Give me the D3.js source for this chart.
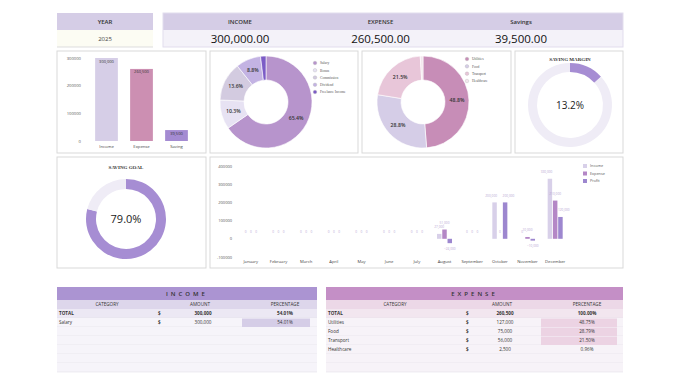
<!DOCTYPE html>
<html><head><meta charset="utf-8">
<script src="https://cdn.jsdelivr.net/npm/d3@7/dist/d3.min.js"></script>
<style>
body{margin:0;background:#fff;}
svg{display:block;font-family:"Open Sans",Lato,sans-serif;}
</style></head>
<body>
<svg id="c" width="680" height="383"></svg>
<script>
// ---------- DATA ----------
const yearLabel = "2025";
const kpiNames = ["INCOME","EXPENSE","Savings"];
const kpiValues = [300000, 260500, 39500];

const summaryCats = ["Income","Expense","Saving"];
const summaryVals = [300000, 260500, 39500];
const summaryTicks = [0,100000,200000,300000];

const incomeCats = ["Salary","Bonus","Commission","Dividend","Freelance Income"];
const incomeShares = [65.4, 10.3, 13.6, 8.8, 1.9];

const expenseCats = ["Utilities","Food","Transport","Healthcare"];
const expenseAmounts = [127000, 75000, 56000, 2500];
const expensePcts = ["48.75%","28.79%","21.50%","0.96%"];

const savingMargin = 13.2;
const savingGoal = 79.0;

const months = ["January","February","March","April","May","June","July","August","September","October","November","December"];
const monthIncome  = [0,0,0,0,0,0,0,27000,0,200000,0,330000];
const monthExpense = [0,0,0,0,0,0,0,51000,0,0,10000,210000];
const monthProfit  = [0,0,0,0,0,0,0,-24000,0,200000,-10000,120000];
const monthTicks = [-100000,0,100000,200000,300000,400000];
const seriesNames = ["Income","Expense","Profit"];

const incomeTableRows = [["TOTAL","300,000","54.01%"],["Salary","300,000","54.01%"]];
const expenseTableTotal = ["TOTAL","260,500","100.00%"];

// ---------- DRAW ----------
const svg = d3.select("#c");
const fmt = d3.format(",");
const fmt2 = d3.format(",.2f");

// KPI header
svg.append("rect").attr("x",57).attr("y",13).attr("width",96).attr("height",17).attr("fill","#d5cde6");
svg.append("rect").attr("x",57).attr("y",30).attr("width",96).attr("height",17).attr("fill","#fcfcf3");
svg.append("line").attr("x1",57).attr("x2",153).attr("y1",47).attr("y2",47).attr("stroke","#ddd");
svg.append("text").attr("x",105).attr("y",24).attr("text-anchor","middle").attr("font-size",6).attr("font-weight",600).attr("fill","#333").text("YEAR");
svg.append("text").attr("x",105).attr("y",41).attr("text-anchor","middle").attr("font-size",6).attr("fill","#444").text(yearLabel);

svg.append("rect").attr("x",163).attr("y",13).attr("width",460).attr("height",17).attr("fill","#d5cde6");
svg.append("rect").attr("x",163).attr("y",30).attr("width",460).attr("height",17).attr("fill","#f4f2f9");
svg.append("rect").attr("x",163).attr("y",13).attr("width",460).attr("height",34).attr("fill","none").attr("stroke","#e2dded");
const kpiX = d3.scalePoint().domain(kpiNames).range([240,521]);
kpiNames.forEach((n,i)=>{
  svg.append("text").attr("x",kpiX(n)).attr("y",24).attr("text-anchor","middle").attr("font-size",6).attr("font-weight",600).attr("fill","#333").text(n);
  svg.append("text").attr("x",kpiX(n)).attr("y",43).attr("text-anchor","middle").attr("font-size",11.5).attr("fill","#111").text(fmt2(kpiValues[i]));
});

// panels
const panels = [[57,51,149,102],[210,51,148,102],[362,51,149,102],[515,51,108,102],[57,157,149,111],[210,157,413,111]];
panels.forEach(p=>svg.append("rect").attr("x",p[0]).attr("y",p[1]).attr("width",p[2]).attr("height",p[3]).attr("fill","#fff").attr("stroke","#d9d9d9").attr("stroke-width",1));

// Panel 1: summary bars
{
  const y = d3.scaleLinear().domain([0,300000]).range([141,58]);
  const x = d3.scaleBand().domain(summaryCats).range([89,194]).paddingInner(0.35).paddingOuter(0.175);
  const cols = ["#d6cee7","#cc8fb2","#a48bd2"];
  const g = svg.append("g");
  summaryTicks.forEach(t=>g.append("text").attr("x",81).attr("y",y(t)+1.5).attr("text-anchor","end").attr("font-size",4.2).attr("fill","#555").text(t));
  summaryCats.forEach((c,i)=>{
    g.append("rect").attr("x",x(c)).attr("y",y(summaryVals[i])).attr("width",x.bandwidth()).attr("height",y(0)-y(summaryVals[i])).attr("fill",cols[i]);
    g.append("text").attr("x",x(c)+x.bandwidth()/2).attr("y",y(summaryVals[i])+4.5).attr("text-anchor","middle").attr("font-size",4).attr("fill","#333").text(fmt(summaryVals[i]));
    g.append("text").attr("x",x(c)+x.bandwidth()/2).attr("y",148).attr("text-anchor","middle").attr("font-size",4.2).attr("fill","#444").text(c);
  });
}

// Donut helper
function donut(cx,cy,vals,cols,labels,showIdx){
  const pie = d3.pie().sort(null)(vals);
  const arc = d3.arc().innerRadius(22).outerRadius(46);
  const la = d3.arc().innerRadius(34).outerRadius(34);
  const g = svg.append("g").attr("transform",`translate(${cx},${cy})`);
  g.selectAll("path").data(pie).join("path").attr("d",arc).attr("fill",(d,i)=>cols[i]).attr("stroke","#fff").attr("stroke-width",0.6);
  g.selectAll("text").data(pie.filter((d,i)=>showIdx.includes(i))).join("text")
    .attr("transform",d=>`translate(${la.centroid(d)})`).attr("text-anchor","middle").attr("dy","0.35em")
    .attr("font-size",5.2).attr("font-weight",600).attr("fill","#333").text((d)=>labels[d.index]);
}
// Panel 2: income donut
{
  const cols = ["#b794cc","#e7e2f3","#d3cbe0","#c3b3e3","#7c5cc6"];
  donut(266,102,incomeShares,cols,incomeShares.map(v=>v.toFixed(1)+"%"),[0,1,2,3]);
  const ly = d3.scalePoint().domain(incomeCats).range([63,92]);
  incomeCats.forEach((c,i)=>{
    svg.append("circle").attr("cx",315).attr("cy",ly(c)).attr("r",1.8).attr("fill",cols[i]).attr("stroke","#aaa").attr("stroke-width",0.3);
    svg.append("text").attr("x",320).attr("y",ly(c)+1.3).attr("font-size",3.6).attr("font-family","Liberation Serif,serif").attr("fill","#555").text(c);
  });
}
// Panel 3: expense donut
{
  const cols = ["#c78db7","#d5cde7","#e8c6d9","#f3e5ed"];
  const tot = d3.sum(expenseAmounts);
  donut(423,102,expenseAmounts,cols,expenseAmounts.map(v=>(v/tot*100).toFixed(1)+"%"),[0,1,2]);
  const ly = d3.scalePoint().domain(expenseCats).range([59,81]);
  expenseCats.forEach((c,i)=>{
    svg.append("circle").attr("cx",467).attr("cy",ly(c)).attr("r",1.8).attr("fill",cols[i]).attr("stroke","#aaa").attr("stroke-width",0.3);
    svg.append("text").attr("x",472).attr("y",ly(c)+1.3).attr("font-size",3.6).attr("font-family","Liberation Serif,serif").attr("fill","#555").text(c);
  });
}
// Gauge helper
function gauge(cx,cy,ro,ri,pct,title,ty,fs){
  const g = svg.append("g").attr("transform",`translate(${cx},${cy})`);
  const a = d3.arc().innerRadius(ri).outerRadius(ro);
  const pie = d3.pie().sort(null)([pct,100-pct]);
  g.selectAll("path").data(pie).join("path").attr("d",a).attr("fill",(d,i)=>i===0?"#a68dd3":"#efecf6");
  g.append("text").attr("text-anchor","middle").attr("dy","0.35em").attr("font-size",fs).attr("fill","#222").text(pct.toFixed(1)+"%");
  svg.append("text").attr("x",cx).attr("y",ty).attr("text-anchor","middle").attr("font-size",5).attr("font-weight",700).attr("font-family","Liberation Serif,serif").attr("fill","#333").text(title);
}
gauge(570,105,42,33,savingMargin,"SAVING MARGIN",61,10);
gauge(126,219,40,30,savingGoal,"SAVING GOAL",169,11);

// Panel 6: monthly chart
{
  const y = d3.scaleLinear().domain([-100000,400000]).range([257,166]);
  const x = d3.scaleBand().domain(months).range([237,569]).paddingInner(0.4).paddingOuter(0.2);
  const x1 = d3.scaleBand().domain(seriesNames).range([0,x.bandwidth()]).padding(0.15);
  const cols = {Income:"#d8d0e9",Expense:"#b487c6",Profit:"#9d87cf"};
  const anchors = {Income:"end",Expense:"middle",Profit:"start"};
  const shift = {Income:2.5,Expense:0,Profit:-2.5};
  const g = svg.append("g");
  monthTicks.forEach(t=>g.append("text").attr("x",232).attr("y",y(t)+1.5).attr("text-anchor","end").attr("font-size",4).attr("fill","#555").text(t));
  months.forEach((m,i)=>{
    g.append("text").attr("x",x(m)+x.bandwidth()/2).attr("y",263).attr("text-anchor","middle").attr("font-size",4.2).attr("fill","#444").text(m);
    const vals = [monthIncome[i],monthExpense[i],monthProfit[i]];
    seriesNames.forEach((s,j)=>{
      const v = vals[j];
      const bx = x(m)+x1(s);
      g.append("rect").attr("x",bx).attr("y",Math.min(y(v),y(0))).attr("width",x1.bandwidth()).attr("height",Math.abs(y(v)-y(0))).attr("fill",cols[s]);
      const ly = v<0 ? y(v)+6.5 : y(v)-5.5;
      const big = Math.abs(v)>=100000;
      g.append("text").attr("x",bx+x1.bandwidth()/2+(big?shift[s]:0)).attr("y",ly)
        .attr("text-anchor",big?anchors[s]:"middle").attr("font-size",3.2).attr("fill","#b9a8d4").text(fmt(v));
    });
  });
  const ly = d3.scalePoint().domain(seriesNames).range([166,181]);
  seriesNames.forEach(s=>{
    g.append("rect").attr("x",583).attr("y",ly(s)-2).attr("width",4).attr("height",4).attr("fill",cols[s]);
    g.append("text").attr("x",590).attr("y",ly(s)+1.3).attr("font-size",3.8).attr("fill","#555").text(s);
  });
}

// Tables
function table(x0,x1,titleColor,headColor,totalBg,rowBg,hiColor,title,colX,dollarX,hiX0,hiX1,rows,total,nRows){
  const g = svg.append("g");
  g.append("rect").attr("x",x0).attr("y",287).attr("width",x1-x0).attr("height",13).attr("fill",titleColor);
  g.append("text").attr("x",(x0+x1)/2).attr("y",296).attr("text-anchor","middle").attr("font-size",6).attr("font-weight",600).attr("letter-spacing",3).attr("fill","#333").text(title);
  g.append("rect").attr("x",x0).attr("y",300).attr("width",x1-x0).attr("height",9).attr("fill",headColor);
  ["CATEGORY","AMOUNT","PERCENTAGE"].forEach((h,i)=>g.append("text").attr("x",colX[i]).attr("y",306.3).attr("text-anchor","middle").attr("font-size",4.6).attr("fill","#333").text(h));
  const rowY = d3.range(nRows).map(i=>309+i*9);
  rowY.forEach((ry,i)=>{
    g.append("rect").attr("x",x0).attr("y",ry).attr("width",x1-x0).attr("height",9).attr("fill",i===0?totalBg:rowBg);
    g.append("line").attr("x1",x0).attr("x2",x1).attr("y1",ry+9).attr("y2",ry+9).attr("stroke","#e4e0ea").attr("stroke-width",0.6);
  });
  const all = [total].concat(rows);
  all.forEach((r,i)=>{
    const ry = rowY[i];
    const bold = i===0 ? 700 : 400;
    if(i>0 && r[3]) g.append("rect").attr("x",hiX0).attr("y",ry+0.5).attr("width",hiX1-hiX0).attr("height",8.5).attr("fill",hiColor);
    g.append("text").attr("x",x0+2).attr("y",ry+6.3).attr("font-size",4.6).attr("font-weight",bold).attr("fill","#333").text(r[0]);
    g.append("text").attr("x",dollarX).attr("y",ry+6.3).attr("font-size",4.6).attr("font-weight",700).attr("fill","#333").text("$");
    g.append("text").attr("x",colX[1]+3).attr("y",ry+6.3).attr("text-anchor","middle").attr("font-size",4.6).attr("font-weight",bold).attr("fill","#333").text(r[1]);
    g.append("text").attr("x",colX[2]).attr("y",ry+6.3).attr("text-anchor","middle").attr("font-size",4.6).attr("font-weight",bold).attr("fill","#333").text(r[2]);
  });
}
table(57,317,"#ab94d2","#ddd6eb","#ece8f4","#f6f4fa","#d5cde7","INCOME",[107,200,285],158,242,310,
  [[incomeTableRows[1][0],incomeTableRows[1][1],incomeTableRows[1][2],true]],incomeTableRows[0],7);
table(326,623,"#c48fc6","#ecd8e7","#f2e6ef","#f7f3f8","#ecd3e3","EXPENSE",[395,502,587],466,541,617,
  expenseCats.map((c,i)=>[c,fmt(expenseAmounts[i]),expensePcts[i],i<3]),expenseTableTotal,7);
</script>
</body></html>
